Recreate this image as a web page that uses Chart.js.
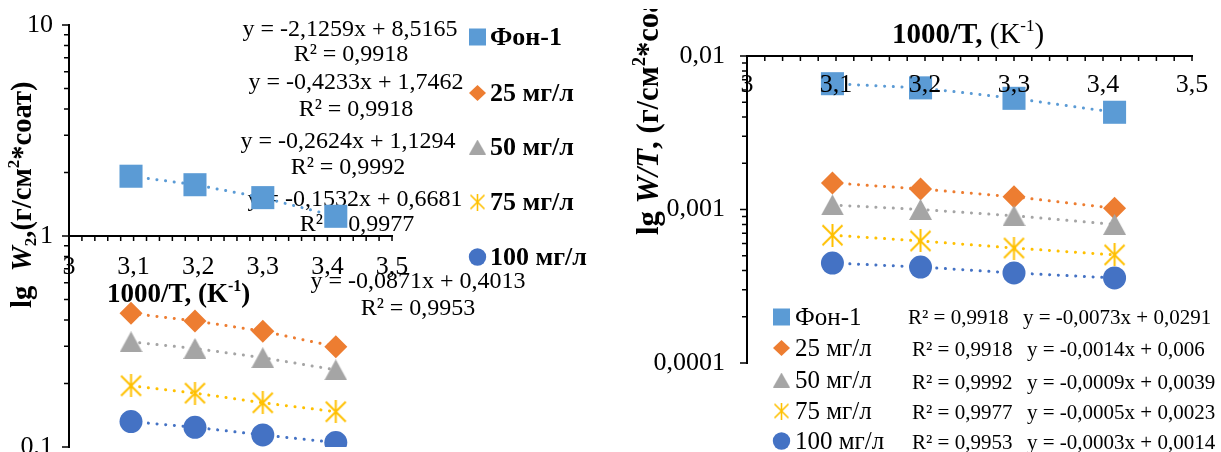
<!DOCTYPE html>
<html lang="ru">
<head>
<meta charset="UTF-8">
<title>lg W, lg W/T — 1000/T</title>
<style>
  html, body { margin: 0; padding: 0; background: #fff; }
  .wrap { position: relative; width: 1221px; height: 452px; overflow: hidden; }
  .wrap canvas { position: absolute; left: 0; top: 0; }
</style>
</head>
<body>
<div class="wrap">
  <canvas id="chartW" width="1221" height="452"></canvas>
  <canvas id="chartWT" width="1221" height="452"></canvas>
</div>

<script src="https://cdn.jsdelivr.net/npm/chart.js@4.4.1/dist/chart.umd.min.js"></script>
<script>
// ---- data ----
const seriesNames = ['Фон-1', '25 мг/л', '50 мг/л', '75 мг/л', '100 мг/л'];
const invT = [3.096, 3.195, 3.300, 3.413];          // 1000/T

// lg W (left chart)
const wFon = [1.92, 1.75, 1.52, 1.24];
const w25  = [0.430, 0.396, 0.354, 0.299];
const w50  = [0.315, 0.293, 0.265, 0.232];
const w75  = [0.195, 0.180, 0.162, 0.147];
const w100 = [0.132, 0.124, 0.114, 0.105];

// lg W/T (right chart)
const wtFon = [0.0066, 0.0062, 0.0053, 0.0043];
const wt25  = [0.00149, 0.00136, 0.00121, 0.00102];
const wt50  = [0.00107, 0.00100, 0.00091, 0.00080];
const wt75  = [0.00068, 0.000624, 0.000561, 0.000506];
const wt100 = [0.000448, 0.000422, 0.000386, 0.000358];

const xTicks = [3, 3.1, 3.2, 3.3, 3.4, 3.5];
const xTickLabels = ['3', '3,1', '3,2', '3,3', '3,4', '3,5'];
const yTicksW = [0.1, 1, 10];
const yTickLabelsW = ['0,1', '1', '10'];
const yTicksWT = [0.0001, 0.001, 0.01];
const yTickLabelsWT = ['0,0001', '0,001', '0,01'];

const eqW = [
  ['y = -2,1259x + 8,5165', 'R² = 0,9918'],
  ['y = -0,4233x + 1,7462', 'R² = 0,9918'],
  ['y = -0,2624x + 1,1294', 'R² = 0,9992'],
  ['y = -0,1532x + 0,6681', 'R² = 0,9977'],
  ['y = -0,0871x + 0,4013', 'R² = 0,9953']
];
const eqWT = [
  ['R² = 0,9918', 'y = -0,0073x + 0,0291'],
  ['R² = 0,9918', 'y = -0,0014x + 0,006'],
  ['R² = 0,9992', 'y = -0,0009x + 0,0039'],
  ['R² = 0,9977', 'y = -0,0005x + 0,0023'],
  ['R² = 0,9953', 'y = -0,0003x + 0,0014']
];

// ---- styles ----
const SERIF = '"Liberation Serif", "Times New Roman", serif';
const colors = ['#5B9BD5', '#ED7D31', '#A5A5A5', '#FFC000', '#4472C4'];

function makeTriangle(w, h, color) {
  const c = document.createElement('canvas');
  c.width = w; c.height = h;
  const g = c.getContext('2d');
  g.fillStyle = color;
  g.beginPath();
  g.moveTo(w / 2, 0); g.lineTo(w, h); g.lineTo(0, h);
  g.closePath(); g.fill();
  return c;
}
function makeAsterisk(s, color, lw) {
  const c = document.createElement('canvas');
  c.width = s; c.height = s;
  const g = c.getContext('2d');
  g.strokeStyle = color; g.lineWidth = lw;
  const p = 1.5;
  g.beginPath();
  g.moveTo(p, p); g.lineTo(s - p, s - p);
  g.moveTo(s - p, p); g.lineTo(p, s - p);
  g.moveTo(s / 2, 0); g.lineTo(s / 2, s);
  g.stroke();
  return c;
}

const triBig = makeTriangle(23, 21, colors[2]);
const starBig = makeAsterisk(23, colors[3], 2);
const triSmall = makeTriangle(17, 15, colors[2]);
const starSmall = makeAsterisk(17, colors[3], 1.6);
const pointStyles = ['rect', 'rectRot', triBig, starBig, 'circle'];
const pointRadii = [16.3, 11.5, 11, 11, 11.5];

function makeDatasets(ySets) {
  return ySets.map((ys, i) => ({
    label: seriesNames[i],
    data: invT.map((x, k) => ({ x: x, y: ys[k] })),
    showLine: true,
    borderColor: colors[i],
    borderWidth: 3,
    borderDash: [0.1, 8.6],
    borderCapStyle: 'round',
    pointStyle: pointStyles[i],
    pointRadius: pointRadii[i],
    pointBackgroundColor: colors[i],
    pointBorderColor: colors[i],
    pointBorderWidth: 0,
    order: -i
  }));
}

// ---- drawing helpers ----
function marker(ctx, i, x, y) {
  ctx.save();
  ctx.fillStyle = colors[i];
  ctx.beginPath();
  if (i === 0) { ctx.fillRect(x - 8.5, y - 8.5, 17, 17); }
  else if (i === 1) {
    ctx.moveTo(x - 8.5, y); ctx.lineTo(x, y - 8); ctx.lineTo(x + 8.5, y); ctx.lineTo(x, y + 8);
    ctx.closePath(); ctx.fill();
  }
  else if (i === 2) { ctx.drawImage(triSmall, x - 8.5, y - 7.5); }
  else if (i === 3) { ctx.drawImage(starSmall, x - 8.5, y - 8.5); }
  else { ctx.arc(x, y, 8.7, 0, Math.PI * 2); ctx.fill(); }
  ctx.restore();
}

function rich(ctx, parts, x, y) {
  let cx = x;
  for (const p of parts) {
    ctx.font = p.f;
    ctx.fillText(p.t, cx, y + (p.dy || 0));
    cx += ctx.measureText(p.t).width;
  }
  return cx - x;
}

function drawAxes(chart, o) {
  const ctx = chart.ctx, xs = chart.scales.x, ys = chart.scales.y;
  const x0 = xs.getPixelForValue(xTicks[0]);
  const x1 = xs.getPixelForValue(xTicks[xTicks.length - 1]);
  const yTop = ys.getPixelForValue(o.yTicks[o.yTicks.length - 1]);
  const yBot = ys.getPixelForValue(o.yTicks[0]);
  const yCross = ys.getPixelForValue(o.cross);
  ctx.save();
  ctx.strokeStyle = '#000';
  ctx.lineWidth = 2;
  ctx.beginPath();
  ctx.moveTo(x0, yTop - 1); ctx.lineTo(x0, yBot + 1);
  ctx.moveTo(x0 - 1, yCross); ctx.lineTo(x1 + 1, yCross);
  ctx.stroke();

  ctx.lineWidth = 1.5;
  ctx.beginPath();
  // x: major every 0.1, minor every 0.02 (same length, pointing down)
  const step = (xTicks[1] - xTicks[0]) / 5;
  const nx = Math.round((xTicks[xTicks.length - 1] - xTicks[0]) / step);
  for (let k = 0; k <= nx; k++) {
    const px = xs.getPixelForValue(xTicks[0] + k * step);
    ctx.moveTo(px, yCross); ctx.lineTo(px, yCross + 5);
  }
  // y: log decades with minor ticks at 2..9
  for (let d = 0; d < o.yTicks.length; d++) {
    const base = o.yTicks[d];
    const kmax = d === o.yTicks.length - 1 ? 1 : 9;
    for (let k = 1; k <= kmax; k++) {
      const py = ys.getPixelForValue(base * k);
      ctx.moveTo(x0, py); ctx.lineTo(x0 - (k === 1 ? 7 : 5), py);
    }
  }
  ctx.stroke();

  ctx.fillStyle = '#000';
  ctx.font = '26px ' + SERIF;
  ctx.textBaseline = 'middle';
  ctx.textAlign = 'center';
  xTicks.forEach((v, i) => ctx.fillText(xTickLabels[i], xs.getPixelForValue(v), yCross + o.xLabelGap));
  ctx.textAlign = 'right';
  o.yTicks.forEach((v, i) => ctx.fillText(o.yLabels[i], x0 - o.yLabelGap, ys.getPixelForValue(v)));
  ctx.restore();
}

// ---- left chart: lg W ----
const decorW = {
  id: 'decorW',
  beforeDatasetsDraw(chart) {
    const ctx = chart.ctx;
    const pos = [[350, 30, 351, 55], [356, 83, 356, 110], [348, 142, 348, 168], [355, 200, 357, 225], [418, 282, 418, 309]];
    ctx.save();
    ctx.fillStyle = '#000';
    ctx.font = '24px ' + SERIF;
    ctx.textAlign = 'center';
    ctx.textBaseline = 'middle';
    eqW.forEach((e, i) => {
      ctx.fillText(e[0], pos[i][0], pos[i][1]);
      ctx.fillText(e[1], pos[i][2], pos[i][3]);
    });
    ctx.restore();
  },
  afterDatasetsDraw(chart) {
    drawAxes(chart, { yTicks: yTicksW, yLabels: yTickLabelsW, cross: 1, xLabelGap: 31, yLabelGap: 16 });
    const ctx = chart.ctx;
    ctx.save();
    ctx.fillStyle = '#000';
    ctx.textBaseline = 'alphabetic';
    ctx.textAlign = 'left';
    // x title
    const B = 'bold 27px ' + SERIF;
    rich(ctx, [{ t: '1000/T, (K', f: B }, { t: '-1', f: 'bold 16px ' + SERIF, dy: -11 }, { t: ')', f: B }], 107, 302);
    // legend
    const rows = [37, 93, 147, 202, 257];
    ctx.textBaseline = 'middle';
    seriesNames.forEach((n, i) => {
      marker(ctx, i, 477.5, rows[i]);
      ctx.font = 'bold 26px ' + SERIF;
      ctx.fillText(n, 490, rows[i] + 1);
    });
    // y title
    ctx.translate(31, 308);
    ctx.rotate(-Math.PI / 2);
    ctx.textBaseline = 'alphabetic';
    const T = 'bold 28.5px ' + SERIF;
    rich(ctx, [
      { t: 'lg  ', f: T },
      { t: 'W', f: 'italic bold 28.5px ' + SERIF },
      { t: '2', f: 'bold 17px ' + SERIF, dy: 5 },
      { t: ',(г/см', f: T },
      { t: '2', f: 'bold 17px ' + SERIF, dy: -12 },
      { t: '*соат)', f: T }
    ], 0, 0);
    ctx.restore();
  }
};

new Chart(document.getElementById('chartW'), {
  type: 'scatter',
  data: { datasets: makeDatasets([wFon, w25, w50, w75, w100]) },
  options: {
    responsive: false,
    animation: false,
    layout: { autoPadding: false, padding: { left: 69, right: 1221 - 392, top: 25, bottom: 452 - 447 } },
    scales: {
      x: { type: 'linear', min: 3, max: 3.5, display: false },
      y: { type: 'logarithmic', min: 0.1, max: 10, display: false }
    },
    plugins: { legend: { display: false }, tooltip: { enabled: false } }
  },
  plugins: [decorW]
});

// ---- right chart: lg W/T ----
const decorWT = {
  id: 'decorWT',
  afterDatasetsDraw(chart) {
    drawAxes(chart, { yTicks: yTicksWT, yLabels: yTickLabelsWT, cross: 0.01, xLabelGap: 29, yLabelGap: 22 });
    const ctx = chart.ctx;
    ctx.save();
    ctx.fillStyle = '#000';
    ctx.textAlign = 'left';
    ctx.textBaseline = 'alphabetic';
    // x title
    const N = '29px ' + SERIF;
    rich(ctx, [
      { t: '1000/T,', f: 'bold 29px ' + SERIF },
      { t: ' (K', f: N },
      { t: '-1', f: '17px ' + SERIF, dy: -12 },
      { t: ')', f: N }
    ], 892, 43);
    // legend + equations
    const rows = [317, 348, 380, 411, 441];
    const eqRows = [318, 350, 383, 413, 443];
    ctx.textBaseline = 'middle';
    seriesNames.forEach((n, i) => {
      marker(ctx, i, 781.5, rows[i]);
      ctx.font = '25px ' + SERIF;
      ctx.fillText(n, 795, rows[i] + 1);
      ctx.font = '21px ' + SERIF;
      ctx.fillText(eqWT[i][0], i === 0 ? 908 : 912, eqRows[i]);
      ctx.fillText(eqWT[i][1], i === 0 ? 1023 : 1027, eqRows[i]);
    });
    // y title (cut at the top edge)
    ctx.beginPath();
    ctx.rect(600, 9, 100, 300);
    ctx.clip();
    ctx.translate(658, 235);
    ctx.rotate(-Math.PI / 2);
    ctx.textBaseline = 'alphabetic';
    const T = 'bold 30.7px ' + SERIF;
    rich(ctx, [
      { t: 'lg ', f: T },
      { t: 'W/T', f: 'italic bold 30.7px ' + SERIF },
      { t: ', (г/см', f: T },
      { t: '2', f: 'bold 18.5px ' + SERIF, dy: -13.5 },
      { t: '*соат)', f: T }
    ], 0, 0);
    ctx.restore();
  }
};

new Chart(document.getElementById('chartWT'), {
  type: 'scatter',
  data: { datasets: makeDatasets([wtFon, wt25, wt50, wt75, wt100]) },
  options: {
    responsive: false,
    animation: false,
    layout: { autoPadding: false, padding: { left: 747, right: 1221 - 1192, top: 56, bottom: 452 - 363 } },
    scales: {
      x: { type: 'linear', min: 3, max: 3.5, display: false },
      y: { type: 'logarithmic', min: 0.0001, max: 0.01, display: false }
    },
    plugins: { legend: { display: false }, tooltip: { enabled: false } }
  },
  plugins: [decorWT]
});
</script>
</body>
</html>
